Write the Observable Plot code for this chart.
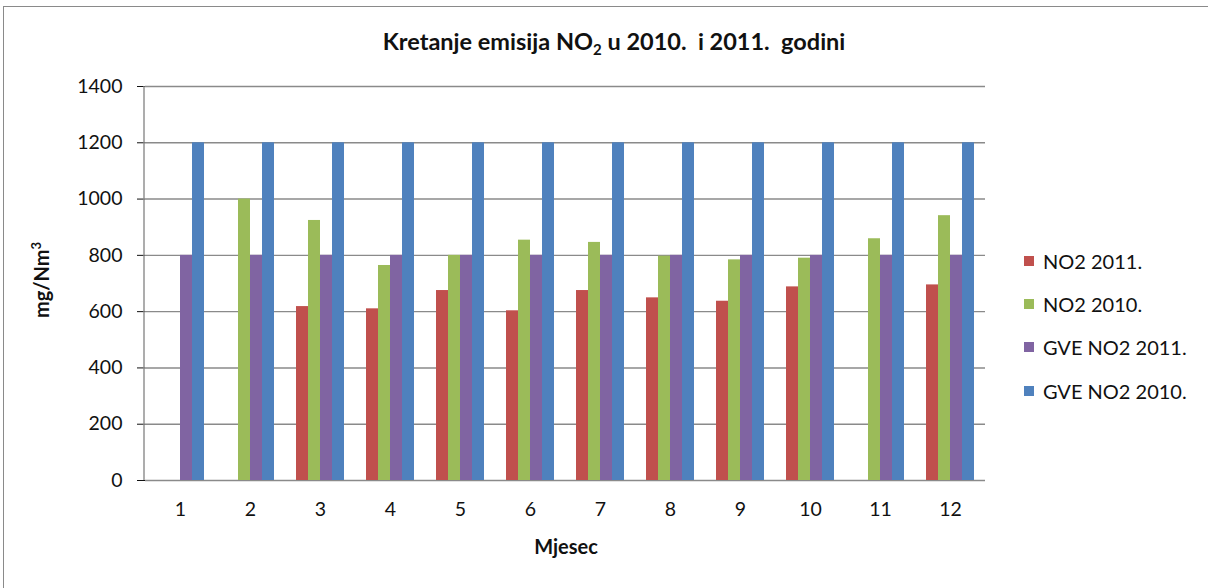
<!DOCTYPE html>
<html>
<head>
<meta charset="utf-8">
<script src="https://cdn.jsdelivr.net/npm/d3@7"></script>
<script src="https://cdn.jsdelivr.net/npm/@observablehq/plot@0.6"></script>
<style>
  html, body { margin: 0; padding: 0; background: #fff; }
  #wrap { position: relative; width: 1208px; height: 588px; overflow: hidden; font-family: Lato, "Open Sans", sans-serif; }
  #frame { position: absolute; left: 3px; top: 6px; width: 1300px; height: 700px; border-left: 1.5px solid #8a8a8a; border-top: 1.5px solid #8a8a8a; }
  #title { position: absolute; left: 0; width: 1228px; top: 27px; text-align: center; font-weight: bold; font-size: 23.5px; color: #111; }
  #title sub { font-size: 15px; vertical-align: -5px; line-height: 0; }
  #ylabel { position: absolute; left: 41px; top: 280px; transform: translate(-50%, -50%) rotate(-90deg); font-weight: bold; font-size: 20px; color: #111; white-space: nowrap; }
  #ylabel sup { font-size: 13px; vertical-align: 8px; line-height: 0; }
  #xlabel { position: absolute; left: 566px; top: 534px; transform: translateX(-50%); font-weight: bold; font-size: 20px; color: #111; }
  #legend { position: absolute; left: 1024px; top: 239px; font-size: 20px; color: #111; }
  .li { display: flex; align-items: center; height: 43.3px; }
  .sw { width: 10px; height: 10px; margin-right: 9px; }
  svg { position: absolute; left: 0; top: 0; }
  svg [aria-label="y-axis tick"] { stroke: #868686; }
</style>
</head>
<body>
<div id="wrap">
  <div id="frame"></div>
  <div id="chart"></div>
  <div id="title"></div>
  <div id="ylabel">mg/Nm<sup>3</sup></div>
  <div id="xlabel"></div>
  <div id="legend"></div>
</div>
<script>
const months = [1, 2, 3, 4, 5, 6, 7, 8, 9, 10, 11, 12];
const seriesNames = ["NO2 2011.", "NO2 2010.", "GVE NO2 2011.", "GVE NO2 2010."];
const seriesColors = ["#C0504D", "#9BBB59", "#8064A2", "#4F81BD"];
const no2_2011 = [null, null, 618, 610, 675, 603, 675, 649, 637, 688, null, 695];
const no2_2010 = [null, 1000, 924, 764, 800, 854, 846, 797, 784, 790, 859, 941];
const gve_2011 = [800, 800, 800, 800, 800, 800, 800, 800, 800, 800, 800, 800];
const gve_2010 = [1200, 1200, 1200, 1200, 1200, 1200, 1200, 1200, 1200, 1200, 1200, 1200];
const yTicks = [0, 200, 400, 600, 800, 1000, 1200, 1400];
const titleText = "Kretanje emisija NO<sub>2</sub> u 2010.&nbsp; i 2011.&nbsp; godini";
const xLabelText = "Mjesec";

const seriesValues = [no2_2011, no2_2010, gve_2011, gve_2010];
const rows = [];
months.forEach((m, i) => {
  seriesNames.forEach((s, j) => {
    const v = seriesValues[j][i];
    if (v != null) rows.push({month: m, series: s, value: v});
  });
});

document.getElementById("title").innerHTML = titleText;
document.getElementById("xlabel").textContent = xLabelText;
const legend = document.getElementById("legend");
seriesNames.forEach((s, j) => {
  const d = document.createElement("div");
  d.className = "li";
  d.innerHTML = `<span class="sw" style="background:${seriesColors[j]}"></span><span>${s}</span>`;
  legend.appendChild(d);
});

const plot = Plot.plot({
  width: 1208,
  height: 588,
  marginLeft: 144,
  marginRight: 222,
  marginTop: 86,
  marginBottom: 108,
  style: {fontFamily: "Lato, 'Open Sans', sans-serif", fontSize: "19.5px", color: "#111", background: "transparent"},
  fx: {domain: months, padding: 0, label: null, tickSize: 0, tickPadding: 22},
  x: {domain: seriesNames, paddingInner: 0, paddingOuter: 0.81, axis: null},
  y: {domain: [0, 1400], ticks: yTicks, tickFormat: d3.format("d"), tickSize: 8, tickPadding: 15, label: null},
  color: {domain: seriesNames, range: seriesColors},
  marks: [
    Plot.ruleY(yTicks, {stroke: "#8a8a8a", strokeWidth: 1.4}),
    Plot.barY(rows, {fx: "month", x: "series", y: "value", fill: "series"})
  ]
});
document.getElementById("chart").appendChild(plot);

// vertical axis line along the y scale range
const ys = plot.scale("y");
d3.select(plot).append("line")
  .attr("x1", 144).attr("x2", 144)
  .attr("y1", ys.range[0]).attr("y2", ys.range[1])
  .attr("stroke", "#8a8a8a").attr("stroke-width", 1.4);
</script>
</body>
</html>
